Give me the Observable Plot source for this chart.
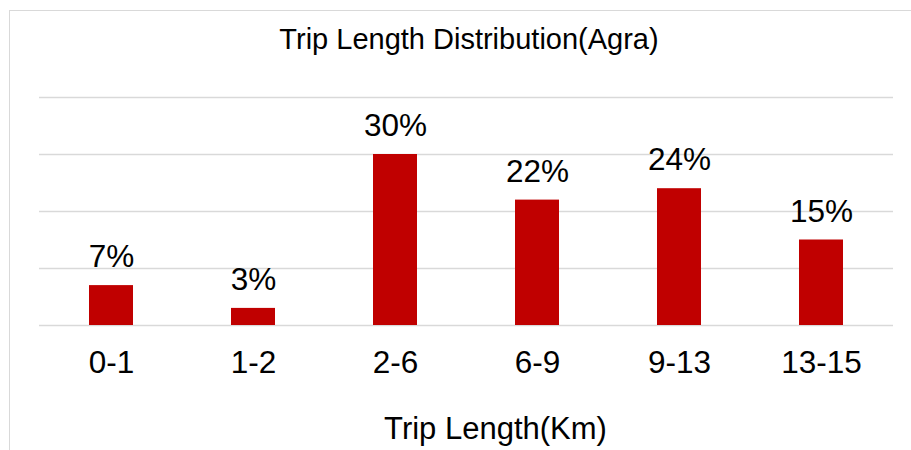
<!DOCTYPE html>
<html>
<head>
<meta charset="utf-8">
<script src="https://cdn.jsdelivr.net/npm/d3@7"></script>
<script src="https://cdn.jsdelivr.net/npm/@observablehq/plot@0.6"></script>
<style>
  html, body { margin: 0; padding: 0; background: white; }
  #wrap { position: relative; width: 911px; height: 450px; overflow: hidden; }
  #border { position: absolute; left: 9px; top: 10px; width: 960px; height: 500px;
            border: 1px solid #d9d9d9; box-sizing: border-box; pointer-events: none; }
</style>
</head>
<body>
<div id="wrap"><div id="chart"></div><div id="border"></div></div>
<script>
const categories = ["0-1", "1-2", "2-6", "6-9", "9-13", "13-15"];
const shares = [7, 3, 30, 22, 24, 15];
const gridTicks = [0, 10, 20, 30, 40];
const title = "Trip Length Distribution(Agra)";
const xTitle = "Trip Length(Km)";

const data = categories.map((c, i) => ({cat: c, val: shares[i]}));
const font = "'Liberation Sans', Arial, sans-serif";

const chart = Plot.plot({
  width: 911,
  height: 450,
  marginLeft: 39,
  marginRight: 18,
  marginTop: 97,
  marginBottom: 125,
  style: {fontFamily: font, color: "#000", background: "white"},
  x: {domain: categories, paddingInner: 0.69, paddingOuter: 0.345},
  y: {domain: [0, 40]},
  marks: [
    Plot.ruleY(gridTicks, {stroke: "#d9d9d9", strokeWidth: 1.5}),
    Plot.barY(data, {x: "cat", y: "val", fill: "#c00000"}),
    Plot.text(data, {x: "cat", y: "val", text: d => d.val + "%", dy: -18.5,
      lineAnchor: "bottom", fontSize: 31.5, fill: "#000"}),
    Plot.axisX({tickSize: 0, tickPadding: 25.6, fontSize: 31.5, label: null, fill: "#000"}),
    Plot.axisY({ticks: [], label: null, tickSize: 0}),
    Plot.text([title], {frameAnchor: "top", dx: 2.5, dy: -49, lineAnchor: "bottom",
      fontSize: 29, fill: "#000"}),
    Plot.text([xTitle], {frameAnchor: "bottom", dx: 29, dy: 113, lineAnchor: "bottom",
      fontSize: 31, fill: "#000"})
  ]
});
document.getElementById("chart").appendChild(chart);
</script>
</body>
</html>
